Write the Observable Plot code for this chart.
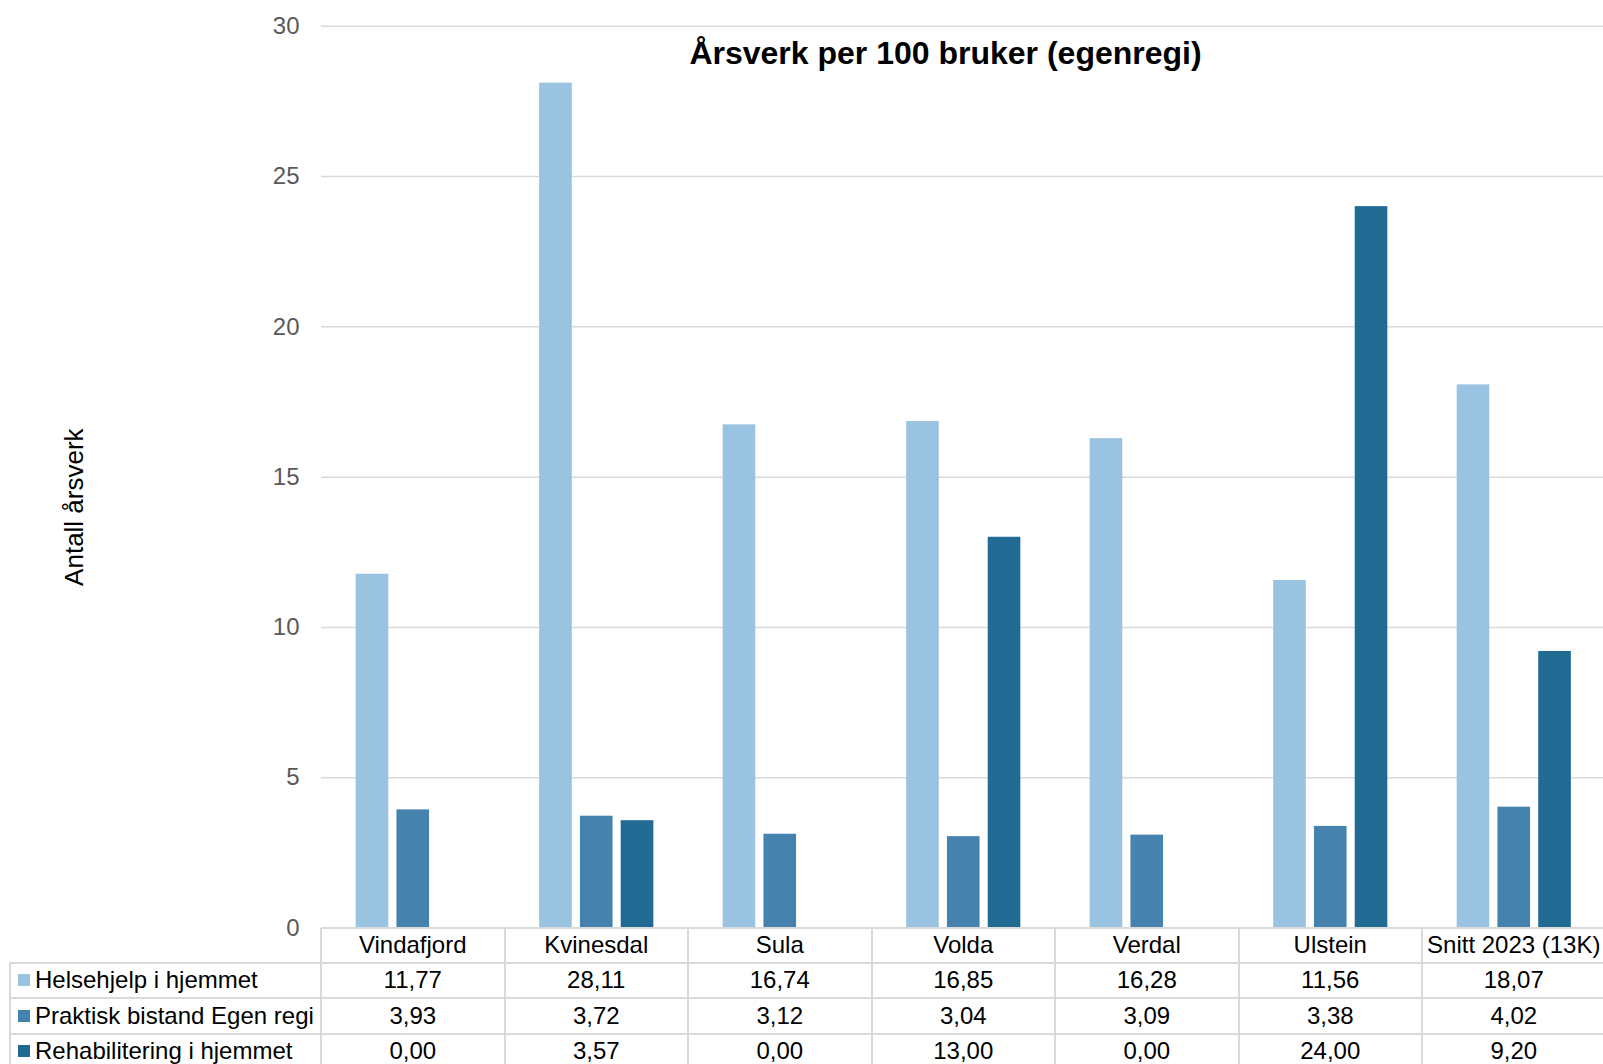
<!DOCTYPE html>
<html>
<head>
<meta charset="utf-8">
<script src="https://cdn.jsdelivr.net/npm/d3@7"></script>
<script src="https://cdn.jsdelivr.net/npm/@observablehq/plot@0.6"></script>
<style>
  html, body { margin: 0; padding: 0; background: #fff; }
  #wrap { position: relative; width: 1603px; height: 1064px; overflow: hidden; font-family: "Liberation Sans", Arial, sans-serif; }
  #chart { position: absolute; left: 0; top: 0; width: 1700px; }
  #chart svg { max-width: none !important; }
  #title { position: absolute; top: 35px; left: 0; width: 1891px; text-align: center; font-weight: bold; font-size: 32px; color: #000; white-space: nowrap; }
  .cell { position: absolute; box-sizing: border-box; display: flex; align-items: center; justify-content: center; font-size: 24px; color: #000; white-space: nowrap; }
  .hl { position: absolute; background: #D9D9D9; }
  .sw { display: inline-block; width: 12px; height: 12px; margin-right: 5px; margin-left: 8px; }
</style>
</head>
<body>
<div id="wrap">
  <div id="chart"></div>
  <div id="title"></div>
  <div id="table"></div>
</div>
<script>
const categories = ["Vindafjord", "Kvinesdal", "Sula", "Volda", "Verdal", "Ulstein", "Snitt 2023 (13K)"];
const series = ["Helsehjelp i hjemmet", "Praktisk bistand Egen regi", "Rehabilitering i hjemmet"];
const helsehjelp = [11.77, 28.11, 16.74, 16.85, 16.28, 11.56, 18.07];
const praktisk = [3.93, 3.72, 3.12, 3.04, 3.09, 3.38, 4.02];
const rehabilitering = [0.00, 3.57, 0.00, 13.00, 0.00, 24.00, 9.20];
const colors = ["#9AC3E1", "#4682AE", "#216A94"];
const yTicks = [0, 5, 10, 15, 20, 25, 30];
const titleText = "Årsverk per 100 bruker (egenregi)";
const yLabel = "Antall årsverk";

const valuesBySeries = [helsehjelp, praktisk, rehabilitering];
const data = categories.flatMap((c, i) => series.map((s, j) => ({category: c, series: s, value: valuesBySeries[j][i]})));

const W = 1605.5, H = 960, mLeft = 321, mTop = 25.8, zeroY = 927.5;

const chart = Plot.plot({
  width: W,
  height: H,
  marginLeft: mLeft,
  marginRight: 0,
  marginTop: mTop,
  marginBottom: H - zeroY,
  style: {fontFamily: "'Liberation Sans', Arial, sans-serif", fontSize: "24px", background: "transparent", overflow: "visible", maxWidth: "none"},
  fx: {domain: categories, padding: 0, round: false, axis: null},
  x: {domain: series, paddingInner: 0.2, paddingOuter: 0.85, round: false, axis: null},
  y: {domain: [0, 30], axis: null},
  color: {domain: series, range: colors},
  marks: [
    Plot.gridY(yTicks, {stroke: "#D9D9D9", strokeOpacity: 1, strokeWidth: 1.5}),
    Plot.axisY(yTicks, {tickSize: 0, tickPadding: 22, color: "#595959", fontSize: 24, label: null}),
    Plot.text([yLabel], {fx: () => categories[0], frameAnchor: "left", rotate: -90, dx: -247, dy: 30, fontSize: 26, fill: "#000", textAnchor: "middle", lineAnchor: "middle"}),
    Plot.barY(data, {fx: "category", x: "series", y: "value", fill: "series"})
  ]
});
document.getElementById("chart").appendChild(chart);
document.getElementById("title").textContent = titleText;

// data table below the chart
const tbl = document.getElementById("table");
const colW = (W - mLeft) / categories.length;
const tableLeft = 10;
const rowY = [927.5, 962.5, 998, 1033.5, 1069];
const fmt = v => v.toFixed(2).replace(".", ",");
function add(cls, style) {
  const d = document.createElement("div");
  d.className = cls;
  Object.assign(d.style, style);
  tbl.appendChild(d);
  return d;
}
const lw = 2;
add("hl", {left: mLeft + "px", top: (rowY[0] - lw / 2) + "px", width: (W - mLeft) + "px", height: lw + "px"});
for (let r = 1; r < rowY.length - 1; ++r) {
  add("hl", {left: tableLeft + "px", top: (rowY[r] - lw / 2) + "px", width: (W - tableLeft) + "px", height: lw + "px"});
}
add("hl", {left: (tableLeft - lw / 2) + "px", top: rowY[1] + "px", width: lw + "px", height: (1064 - rowY[1]) + "px"});
for (let i = 0; i < categories.length; ++i) {
  add("hl", {left: (mLeft + i * colW - lw / 2) + "px", top: rowY[0] + "px", width: lw + "px", height: (1064 - rowY[0]) + "px"});
}
categories.forEach((c, i) => {
  add("cell", {left: (mLeft + i * colW) + "px", top: rowY[0] + "px", width: colW + "px", height: (rowY[1] - rowY[0]) + "px"}).textContent = c;
});
series.forEach((s, j) => {
  const y0 = rowY[j + 1], h = rowY[j + 2] - y0;
  const lab = add("cell", {left: tableLeft + "px", top: y0 + "px", width: (mLeft - tableLeft) + "px", height: h + "px", justifyContent: "flex-start"});
  const sw = document.createElement("span");
  sw.className = "sw";
  sw.style.background = colors[j];
  lab.appendChild(sw);
  lab.appendChild(document.createTextNode(s));
  valuesBySeries[j].forEach((v, i) => {
    add("cell", {left: (mLeft + i * colW) + "px", top: y0 + "px", width: colW + "px", height: h + "px"}).textContent = fmt(v);
  });
});
</script>
</body>
</html>
